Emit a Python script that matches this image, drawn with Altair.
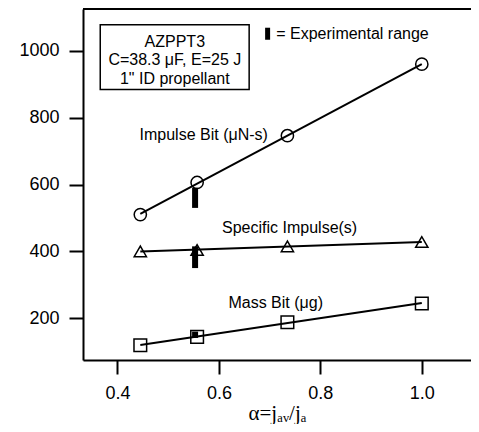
import altair as alt
import pandas as pd

# data
alpha = [0.445, 0.557, 0.735, 1.0]
impulse_bit = [510, 606, 746, 960]
specific_impulse = [400, 404, 415, 428]
mass_bit = [119, 144, 188, 244]

exp_x = [0.553, 0.553, 0.553]
exp_lo = [530, 350, 141]
exp_hi = [590, 415, 160]

X_DOM = [0.332, 1.097]
Y_DOM = [75, 1125]

series = pd.DataFrame({
    "alpha": alpha * 3,
    "value": impulse_bit + specific_impulse + mass_bit,
    "series": ["ib"] * 4 + ["isp"] * 4 + ["mb"] * 4,
})
exp = pd.DataFrame({"x": exp_x, "lo": exp_lo, "hi": exp_hi})

xs = alt.Scale(domain=X_DOM, nice=False, zero=False)
ys = alt.Scale(domain=Y_DOM, nice=False, zero=False)

xax = alt.Axis(values=[0.4, 0.6, 0.8, 1.0], format=".1f", grid=False,
               tickSize=14, tickWidth=2, domainWidth=2, domainColor="black",
               tickColor="black", labelFont="Liberation Sans", labelFontSize=18,
               labelColor="black", labelPadding=10,
               title="α=jₐᵥ/jₐ", titleFont="Liberation Serif", titleFontSize=21,
               titleFontWeight="normal", titleColor="black", titlePadding=0)
yax = alt.Axis(values=[200, 400, 600, 800, 1000], format="d", grid=False,
               tickSize=14, tickWidth=2, domainWidth=2, domainColor="black",
               tickColor="black", labelFont="Liberation Sans", labelFontSize=18,
               labelColor="black", labelPadding=10, title=None)

base = alt.Chart(series)

lines = alt.layer(*[
    base.transform_filter(alt.datum.series == s)
        .transform_regression("alpha", "value")
        .mark_line(color="black", strokeWidth=2)
        .encode(x=alt.X("alpha:Q", scale=xs, axis=xax),
                y=alt.Y("value:Q", scale=ys, axis=yax))
    for s in ["ib", "isp", "mb"]
])

shapes = {"ib": ("circle", 150), "isp": ("triangle-up", 150), "mb": ("square", 160)}
points = alt.layer(*[
    base.transform_filter(alt.datum.series == s)
        .mark_point(shape=sh, size=sz, filled=False, color="black", strokeWidth=1.5, opacity=1)
        .encode(x=alt.X("alpha:Q", scale=xs), y=alt.Y("value:Q", scale=ys))
    for s, (sh, sz) in shapes.items()
])

bars = alt.Chart(exp).mark_rule(color="black", strokeWidth=6, strokeCap="butt").encode(
    x=alt.X("x:Q", scale=xs), y=alt.Y("lo:Q", scale=ys), y2="hi:Q")

# annotation box
box_df = pd.DataFrame({"x": [0.366], "x2": [0.6596], "y": [1078], "y2": [884]})
box = alt.Chart(box_df).mark_rect(fill="white", stroke="black", strokeWidth=1.5).encode(
    x=alt.X("x:Q", scale=xs), x2="x2:Q", y=alt.Y("y:Q", scale=ys), y2="y2:Q")

box_text_df = pd.DataFrame({
    "x": [0.513, 0.513, 0.513],
    "y": [1027, 972, 916],
    "t": ["AZPPT3", "C=38.3 μF, E=25 J", "1\" ID propellant"],
})
box_text = alt.Chart(box_text_df).mark_text(font="Liberation Sans", fontSize=16,
                                             color="black", align="center", baseline="middle").encode(
    x=alt.X("x:Q", scale=xs), y=alt.Y("y:Q", scale=ys), text="t:N")

labels_df = pd.DataFrame({
    "x": [0.570, 0.7394, 0.712, 0.713],
    "y": [749, 469, 245, 1051],
    "t": ["Impulse Bit (μN-s)", "Specific Impulse(s)", "Mass Bit (μg)", "= Experimental range"],
    "a": ["center", "center", "center", "left"],
})
labels_c = alt.Chart(labels_df).transform_filter(alt.datum.a == "center").mark_text(
    font="Liberation Sans", fontSize=16, color="black", align="center", baseline="middle").encode(
    x=alt.X("x:Q", scale=xs), y=alt.Y("y:Q", scale=ys), text="t:N")
labels_l = alt.Chart(labels_df).transform_filter(alt.datum.a == "left").mark_text(
    font="Liberation Sans", fontSize=16, color="black", align="left", baseline="middle").encode(
    x=alt.X("x:Q", scale=xs), y=alt.Y("y:Q", scale=ys), text="t:N")

leg_df = pd.DataFrame({"x": [0.696], "lo": [1033], "hi": [1069]})
leg_bar = alt.Chart(leg_df).mark_rule(color="black", strokeWidth=5, strokeCap="butt").encode(
    x=alt.X("x:Q", scale=xs), y=alt.Y("lo:Q", scale=ys), y2="hi:Q")

top_df = pd.DataFrame({"x": [X_DOM[0]], "x2": [X_DOM[1]], "y": [Y_DOM[1]]})
top_line = alt.Chart(top_df).mark_rule(color="black", strokeWidth=2).encode(
    x=alt.X("x:Q", scale=xs), x2="x2:Q", y=alt.Y("y:Q", scale=ys))

chart = alt.layer(lines, points, bars, box, box_text, labels_c, labels_l, leg_bar, top_line).properties(
    width=388, height=351,
    autosize=alt.AutoSizeParams(type="none"),
    padding={"left": 75, "top": 1, "right": 0, "bottom": 64},
).configure_view(stroke=None).configure(background="white")

chart.save("out.html", embed_options={"renderer": "svg", "actions": False})
